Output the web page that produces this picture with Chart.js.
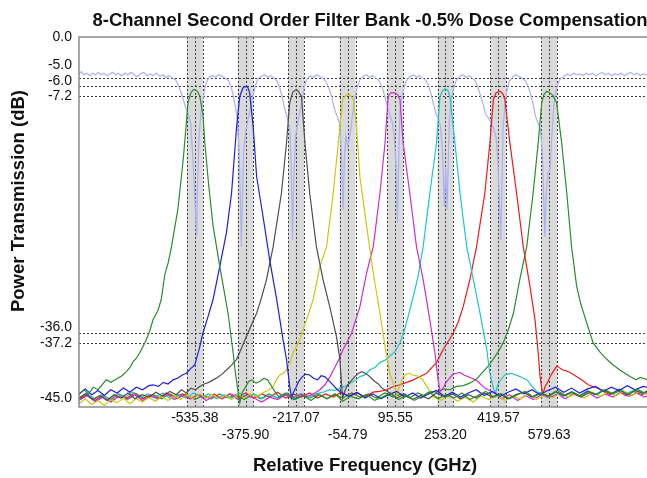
<!DOCTYPE html>
<html>
<head>
<meta charset="utf-8">
<title>8-Channel Second Order Filter Bank</title>
<script src="https://cdn.jsdelivr.net/npm/chart.js@4.4.1/dist/chart.umd.min.js"></script>
<style>
  html, body { margin: 0; padding: 0; background: #fff; }
  #wrap { width: 647px; height: 478px; overflow: hidden; }
  canvas { display: block; }
</style>
</head>
<body>
<div id="wrap"><canvas id="filterBankChart" width="740" height="478"></canvas></div>
<script>
// channel centre frequencies (GHz) and the labels printed under them
const channelCenters = [-535.38, -375.90, -217.07, -54.79, 95.55, 253.20, 419.57, 579.63];
const tickLabels = ["-535.38", "-375.90", "-217.07", "-54.79", "95.55", "253.20", "419.57", "579.63"];

// labelled transmission levels (dB) and the dotted reference levels
const yTickValues = [0, -5, -6, -7.2, -36, -37.2, -45];
const refLevels = [-5, -6, -7.2, -36, -37.2];

// measured drop-port responses, [GHz, dB]
const ch1 = [[-900,-43.5],[-885,-42.9],[-870,-43.4],[-855,-42.6],[-840,-42.9],[-825,-42.2],[-814,-41.7],[-800,-42.0],[-782,-41.6],[-765,-41.2],[-751,-40.7],[-740,-40.2],[-730,-39.5],[-720,-39.1],[-709,-38.4],[-698,-37.6],[-688,-36.8],[-677,-35.7],[-667,-34.4],[-651,-33.2],[-641,-31.9],[-630,-28.9],[-619,-27.4],[-609,-25.5],[-589,-21.0],[-572,-14.9],[-564,-11.3],[-557,-8.0],[-548,-6.8],[-540,-6.4],[-535,-6.4],[-526,-6.7],[-520,-7.2],[-510,-9.4],[-504,-12.9],[-492,-18.0],[-478,-23.0],[-457,-27.9],[-431,-33.6],[-415,-38.4],[-407,-41.1],[-399,-43.3],[-394,-44.5],[-386,-43.2],[-378,-42.7],[-366,-41.9],[-356,-41.7],[-343,-42.1],[-331,-41.9],[-318,-41.5],[-306,-41.7],[-295,-42.4],[-284,-43.1],[-270,-43.8],[-245,-43.3],[-220,-44.1],[-195,-43.6],[-170,-44.2],[-145,-43.5],[-120,-44.0],[-95,-43.4],[-70,-44.3],[-45,-43.7],[-20,-44.0],[5,-43.5],[30,-44.2],[55,-43.8],[80,-43.3],[105,-44.1],[130,-43.6],[155,-44.2],[180,-43.7],[205,-43.2],[230,-44.0],[255,-43.5],[280,-43.9],[305,-43.3],[330,-44.1],[355,-43.6],[380,-43.1],[405,-43.8],[430,-43.4],[455,-44.0],[480,-43.5],[505,-43.1],[530,-43.8],[555,-43.3],[580,-43.7],[605,-43.0],[630,-43.6],[655,-43.2],[680,-43.8],[705,-43.1],[730,-43.5],[755,-42.9],[780,-43.4],[805,-43.0],[830,-43.5],[855,-42.8],[880,-43.3],[900,-42.9]];

const ch2 = [[-900,-43.4],[-880,-42.8],[-860,-43.5],[-840,-43.0],[-820,-43.6],[-800,-42.9],[-780,-43.3],[-760,-42.7],[-740,-43.2],[-720,-42.6],[-700,-42.9],[-680,-42.4],[-667,-42.3],[-650,-42.5],[-635,-42.0],[-620,-42.2],[-604,-41.7],[-590,-41.5],[-575,-41.1],[-562,-40.9],[-548,-40.3],[-536,-39.9],[-522,-38.0],[-510,-36.0],[-494,-34.0],[-478,-31.9],[-457,-27.9],[-436,-23.8],[-420,-19.0],[-404,-10.9],[-394,-7.2],[-384,-6.2],[-378,-6.0],[-369,-6.1],[-363,-6.8],[-352,-10.9],[-341,-17.0],[-321,-21.8],[-300,-27.1],[-278,-31.9],[-258,-36.8],[-247,-39.2],[-237,-42.5],[-231,-43.9],[-225,-43.2],[-218,-42.7],[-209,-41.9],[-199,-41.4],[-187,-41.0],[-174,-41.1],[-162,-41.5],[-149,-41.7],[-138,-41.2],[-127,-41.3],[-114,-41.8],[-101,-42.3],[-87,-42.9],[-73,-43.3],[-50,-43.7],[-25,-43.2],[0,-43.9],[25,-43.4],[50,-44.0],[75,-43.5],[100,-43.1],[125,-43.8],[150,-43.3],[175,-43.9],[200,-43.4],[225,-43.0],[250,-43.7],[275,-43.2],[300,-43.8],[325,-43.3],[350,-42.9],[375,-43.6],[400,-43.1],[425,-43.7],[450,-43.2],[475,-42.8],[500,-43.4],[525,-42.9],[550,-43.5],[575,-43.0],[600,-42.6],[625,-43.2],[650,-42.7],[675,-43.3],[700,-42.8],[725,-42.5],[750,-43.1],[775,-42.6],[800,-43.0],[825,-42.4],[850,-42.9],[875,-42.5],[900,-42.7]];

const ch3 = [[-900,-43.9],[-878,-43.4],[-856,-44.1],[-834,-43.6],[-812,-44.2],[-790,-43.5],[-768,-43.9],[-746,-43.3],[-724,-44.0],[-702,-43.5],[-680,-43.8],[-658,-43.2],[-636,-43.7],[-614,-43.1],[-594,-43.5],[-578,-42.9],[-562,-43.3],[-548,-42.7],[-534,-42.9],[-520,-42.5],[-506,-42.2],[-492,-42.0],[-478,-41.7],[-464,-41.4],[-450,-41.0],[-436,-40.5],[-420,-39.9],[-404,-39.2],[-388,-37.8],[-373,-36.4],[-357,-35.0],[-341,-33.6],[-325,-31.6],[-310,-29.5],[-289,-25.5],[-263,-19.0],[-247,-12.9],[-237,-8.0],[-227,-6.7],[-216,-6.4],[-208,-6.7],[-200,-7.2],[-189,-12.9],[-174,-19.0],[-153,-25.5],[-132,-29.5],[-111,-32.8],[-90,-36.4],[-79,-39.2],[-74,-42.1],[-70,-43.9],[-63,-43.0],[-54,-42.3],[-43,-41.8],[-32,-41.3],[-21,-40.9],[-10,-40.7],[0,-40.9],[9,-41.1],[20,-41.5],[31,-41.9],[42,-42.2],[53,-42.7],[65,-43.0],[78,-43.3],[100,-43.9],[125,-43.4],[150,-44.1],[175,-43.6],[200,-44.0],[225,-43.3],[250,-43.8],[275,-43.4],[300,-44.0],[325,-43.5],[350,-43.9],[375,-43.3],[400,-43.8],[425,-43.4],[450,-44.0],[475,-43.5],[500,-43.2],[525,-43.8],[550,-43.3],[575,-43.7],[600,-43.1],[625,-43.6],[650,-43.2],[675,-43.7],[700,-43.1],[725,-43.5],[750,-43.0],[775,-43.4],[800,-42.9],[825,-43.5],[850,-43.0],[875,-43.3],[900,-42.8]];

const ch4 = [[-900,-44.6],[-880,-44.0],[-860,-44.7],[-840,-44.2],[-820,-44.8],[-800,-44.1],[-780,-44.5],[-760,-43.9],[-740,-44.6],[-720,-44.0],[-700,-44.4],[-680,-43.8],[-660,-44.3],[-640,-43.7],[-620,-44.2],[-600,-43.6],[-580,-44.1],[-560,-43.5],[-540,-44.0],[-520,-43.4],[-500,-43.9],[-480,-43.5],[-460,-44.0],[-440,-43.6],[-420,-44.1],[-400,-43.5],[-380,-43.9],[-360,-43.4],[-340,-43.8],[-320,-43.2],[-305,-43.0],[-289,-42.5],[-278,-41.6],[-268,-41.1],[-257,-40.9],[-247,-40.5],[-236,-39.6],[-226,-38.4],[-215,-37.6],[-205,-36.8],[-195,-35.6],[-184,-34.4],[-163,-31.9],[-142,-27.9],[-121,-25.5],[-100,-19.0],[-79,-10.9],[-70,-7.6],[-60,-7.1],[-48,-7.0],[-37,-7.6],[-27,-10.9],[-16,-17.0],[5,-23.0],[26,-28.7],[47,-33.6],[63,-37.6],[78,-40.9],[94,-42.7],[100,-43.6],[108,-42.6],[119,-41.4],[130,-41.0],[141,-40.9],[154,-41.2],[166,-41.2],[175,-41.5],[182,-41.7],[193,-42.4],[204,-43.1],[215,-43.8],[240,-44.2],[265,-43.6],[290,-44.3],[315,-43.8],[340,-44.4],[365,-43.7],[390,-44.1],[415,-43.5],[440,-44.2],[465,-43.7],[490,-44.0],[515,-43.4],[540,-44.1],[565,-43.6],[590,-43.9],[615,-43.3],[640,-43.8],[665,-43.4],[690,-43.9],[715,-43.3],[740,-43.7],[765,-43.2],[790,-43.6],[815,-43.1],[840,-43.6],[865,-43.1],[890,-43.5],[900,-43.3]];

const ch5 = [[-900,-44.2],[-875,-43.6],[-850,-44.3],[-825,-43.8],[-800,-44.4],[-775,-43.7],[-750,-44.1],[-725,-43.5],[-700,-44.2],[-675,-43.7],[-650,-44.0],[-625,-43.4],[-600,-44.1],[-575,-43.6],[-550,-44.0],[-525,-43.5],[-500,-44.2],[-475,-43.7],[-450,-44.0],[-425,-43.4],[-400,-44.1],[-375,-43.6],[-350,-43.9],[-325,-44.4],[-300,-43.8],[-275,-44.1],[-250,-43.5],[-225,-43.9],[-200,-43.4],[-180,-43.7],[-158,-43.3],[-142,-42.9],[-126,-42.3],[-110,-41.3],[-95,-40.2],[-82,-39.2],[-69,-38.0],[-55,-37.0],[-42,-36.0],[-16,-32.8],[5,-28.7],[26,-25.5],[47,-19.0],[63,-12.9],[73,-7.2],[81,-6.8],[94,-6.8],[103,-7.0],[110,-7.6],[120,-12.9],[141,-19.0],[162,-25.5],[183,-29.5],[204,-34.4],[220,-38.4],[230,-41.7],[236,-43.1],[245,-42.8],[255,-42.0],[266,-41.5],[277,-41.0],[288,-40.9],[299,-40.8],[311,-41.1],[324,-41.3],[336,-41.5],[349,-41.7],[363,-42.2],[377,-42.7],[392,-43.0],[409,-43.3],[430,-44.0],[455,-43.5],[480,-44.2],[505,-43.6],[530,-44.1],[555,-43.5],[580,-43.9],[605,-43.4],[630,-44.0],[655,-43.4],[680,-43.8],[705,-43.3],[730,-43.9],[755,-43.4],[780,-43.8],[805,-43.2],[830,-43.7],[855,-43.3],[880,-43.8],[900,-43.5]];

const ch6 = [[-900,-43.9],[-876,-43.3],[-852,-44.0],[-828,-43.5],[-804,-44.1],[-780,-43.4],[-756,-43.8],[-732,-43.2],[-708,-43.9],[-684,-43.4],[-660,-43.8],[-636,-43.3],[-612,-44.0],[-588,-43.5],[-564,-43.9],[-540,-43.3],[-516,-43.8],[-492,-43.4],[-468,-44.0],[-444,-43.5],[-420,-43.9],[-396,-43.3],[-372,-43.8],[-348,-43.4],[-324,-44.0],[-300,-43.5],[-276,-43.9],[-252,-43.3],[-228,-43.8],[-204,-43.4],[-180,-43.9],[-156,-43.4],[-132,-43.2],[-111,-42.9],[-95,-43.0],[-79,-42.7],[-63,-42.5],[-48,-42.1],[-32,-41.8],[-16,-41.3],[0,-41.1],[15,-40.5],[31,-40.2],[47,-39.6],[63,-39.3],[78,-38.8],[94,-38.3],[110,-37.2],[126,-35.4],[141,-33.2],[154,-31.2],[167,-29.1],[183,-25.5],[204,-19.0],[225,-12.9],[236,-7.2],[245,-6.5],[252,-6.3],[261,-6.5],[267,-7.2],[283,-12.9],[299,-19.0],[320,-25.5],[341,-29.5],[362,-33.6],[383,-38.0],[393,-40.9],[404,-42.7],[411,-43.3],[418,-42.3],[429,-41.6],[440,-41.1],[451,-41.0],[462,-40.9],[475,-41.1],[488,-41.3],[499,-41.5],[510,-41.7],[522,-42.3],[535,-42.9],[550,-43.4],[575,-43.8],[600,-43.2],[625,-43.7],[650,-43.1],[675,-43.6],[700,-43.0],[725,-43.5],[750,-42.9],[775,-43.4],[800,-42.8],[825,-43.3],[850,-42.9],[875,-43.4],[900,-42.9]];

const ch7 = [[-900,-44.0],[-875,-43.5],[-850,-44.2],[-825,-43.6],[-800,-44.1],[-775,-43.4],[-750,-43.9],[-725,-43.3],[-700,-44.0],[-675,-43.5],[-650,-43.9],[-625,-43.3],[-600,-43.8],[-575,-43.4],[-550,-44.0],[-525,-43.5],[-500,-43.9],[-475,-43.4],[-450,-44.0],[-425,-43.4],[-400,-43.8],[-375,-43.3],[-350,-43.9],[-325,-43.4],[-300,-43.8],[-275,-43.2],[-250,-43.9],[-225,-43.4],[-200,-43.8],[-175,-43.3],[-150,-43.9],[-125,-43.4],[-100,-43.8],[-75,-43.2],[-50,-43.7],[-25,-43.3],[0,-43.8],[25,-43.2],[47,-43.1],[68,-42.9],[89,-42.5],[110,-42.3],[131,-42.0],[152,-41.7],[173,-41.3],[194,-40.9],[210,-40.2],[225,-39.6],[246,-38.0],[262,-37.0],[278,-36.0],[294,-34.6],[309,-32.8],[330,-29.5],[351,-25.5],[377,-19.0],[393,-12.9],[404,-7.6],[412,-6.8],[425,-6.6],[434,-6.9],[440,-7.6],[456,-12.9],[477,-19.0],[498,-25.5],[519,-30.3],[535,-34.4],[545,-38.4],[551,-41.3],[559,-43.5],[567,-42.5],[576,-41.9],[584,-41.2],[592,-40.7],[604,-40.0],[614,-40.3],[623,-40.5],[634,-40.6],[645,-40.8],[658,-41.1],[670,-41.4],[686,-41.8],[702,-42.3],[717,-42.5],[733,-42.7],[750,-43.1],[770,-43.5],[795,-43.0],[820,-43.6],[845,-43.1],[870,-43.5],[900,-43.1]];

const ch8 = [[-900,-44.1],[-874,-43.6],[-848,-44.3],[-822,-43.7],[-796,-44.2],[-770,-43.6],[-744,-44.0],[-718,-43.4],[-692,-44.1],[-666,-43.5],[-640,-44.0],[-614,-43.4],[-588,-43.9],[-562,-43.4],[-536,-44.1],[-510,-43.6],[-484,-44.0],[-458,-43.4],[-432,-43.9],[-406,-43.5],[-380,-44.1],[-354,-43.5],[-328,-44.0],[-302,-43.4],[-276,-43.9],[-250,-43.5],[-224,-44.1],[-198,-43.6],[-172,-43.9],[-146,-43.4],[-120,-44.0],[-94,-43.5],[-68,-43.9],[-42,-43.3],[-16,-43.8],[10,-43.4],[36,-43.9],[62,-43.3],[88,-43.8],[114,-43.4],[140,-43.9],[166,-43.3],[185,-43.6],[204,-43.1],[225,-43.2],[246,-42.8],[267,-42.9],[288,-42.5],[309,-42.4],[330,-42.1],[351,-41.6],[372,-40.7],[388,-40.0],[403,-39.2],[419,-38.3],[435,-37.2],[451,-35.6],[467,-33.6],[487,-29.5],[509,-25.5],[529,-19.0],[545,-12.9],[556,-8.0],[563,-7.0],[572,-6.6],[582,-6.8],[591,-7.1],[603,-8.0],[619,-12.9],[635,-19.0],[650,-25.5],[666,-30.3],[680,-32.6],[698,-34.8],[718,-37.2],[739,-38.3],[761,-39.2],[781,-39.9],[802,-40.5],[818,-40.9],[834,-41.3],[853,-41.7],[866,-41.4],[876,-41.5],[888,-41.7],[900,-41.6]];

// through-port response, [GHz, dB]
const throughPort = [[-900,-4.5],[-892,-4.2],[-884,-4.6],[-876,-4.4],[-866,-4.7],[-858,-4.4],[-848,-4.6],[-840,-4.3],[-830,-4.6],[-822,-4.4],[-812,-4.7],[-802,-4.5],[-794,-4.3],[-784,-4.6],[-776,-4.4],[-766,-4.7],[-756,-4.4],[-746,-4.6],[-736,-4.3],[-726,-4.6],[-716,-4.8],[-706,-4.5],[-696,-4.3],[-686,-4.7],[-676,-4.5],[-666,-4.7],[-656,-4.4],[-646,-4.8],[-636,-4.6],[-626,-4.9],[-616,-4.7],[-606,-5.0],[-596,-5.2],[-588,-5.8],[-580,-6.6],[-572,-7.6],[-564,-8.6],[-556,-9.4],[-548,-10.6],[-540,-16.0],[-534,-21.0],[-530,-24.3],[-527,-18.0],[-522,-12.0],[-516,-9.0],[-510,-7.6],[-504,-6.2],[-498,-5.4],[-490,-4.9],[-480,-4.7],[-470,-4.9],[-460,-4.6],[-450,-4.8],[-440,-5.0],[-430,-5.3],[-422,-6.0],[-415,-7.0],[-410,-8.0],[-402,-9.8],[-396,-14.0],[-392,-20.0],[-389,-25.5],[-386,-20.0],[-382,-14.0],[-376,-11.6],[-368,-10.0],[-360,-8.6],[-352,-7.0],[-344,-5.8],[-336,-5.0],[-326,-4.8],[-316,-4.6],[-306,-4.9],[-296,-4.7],[-286,-5.0],[-276,-5.4],[-268,-6.2],[-260,-7.4],[-252,-8.9],[-244,-9.8],[-236,-11.5],[-232,-16.0],[-228,-24.7],[-224,-17.0],[-218,-12.0],[-210,-10.0],[-202,-8.6],[-196,-7.2],[-190,-5.9],[-182,-5.1],[-172,-4.7],[-162,-4.9],[-152,-4.6],[-142,-4.8],[-132,-5.0],[-122,-5.5],[-112,-6.4],[-104,-7.4],[-96,-8.8],[-88,-9.6],[-80,-10.5],[-74,-14.0],[-69,-21.0],[-65,-15.0],[-60,-12.0],[-54,-13.3],[-50,-12.5],[-44,-11.0],[-38,-9.0],[-32,-7.4],[-24,-6.0],[-16,-5.2],[-6,-4.8],[4,-4.6],[14,-4.9],[24,-4.7],[34,-5.0],[44,-5.3],[54,-6.1],[62,-7.2],[70,-8.4],[78,-9.4],[86,-10.4],[92,-12.0],[98,-16.0],[102,-22.6],[106,-15.0],[110,-9.0],[116,-7.2],[124,-6.0],[132,-5.2],[142,-4.8],[152,-4.6],[162,-4.9],[172,-4.7],[182,-5.0],[192,-5.3],[200,-5.9],[208,-7.0],[216,-8.2],[224,-9.4],[232,-10.0],[238,-11.0],[244,-14.0],[250,-20.6],[254,-16.0],[258,-21.0],[262,-15.0],[266,-9.6],[272,-7.4],[280,-6.0],[288,-5.2],[298,-4.8],[308,-4.6],[318,-4.9],[328,-4.7],[338,-5.0],[348,-5.4],[356,-6.2],[364,-7.2],[372,-8.2],[380,-9.4],[388,-9.8],[396,-10.4],[404,-11.0],[412,-12.0],[418,-15.0],[423,-20.0],[427,-24.7],[431,-18.0],[434,-11.5],[440,-8.4],[446,-6.6],[454,-5.4],[464,-4.9],[474,-4.6],[484,-4.8],[494,-5.0],[504,-5.3],[512,-5.9],[520,-6.8],[528,-8.0],[536,-9.6],[544,-10.4],[552,-11.2],[558,-14.0],[562,-19.0],[566,-24.3],[570,-19.0],[576,-16.5],[582,-16.1],[588,-12.0],[594,-8.4],[600,-6.6],[608,-5.6],[616,-5.0],[626,-4.8],[636,-4.5],[646,-4.7],[656,-4.4],[666,-4.6],[676,-4.5],[686,-4.7],[696,-4.4],[706,-4.6],[716,-4.4],[726,-4.7],[736,-4.5],[746,-4.3],[756,-4.6],[766,-4.4],[776,-4.7],[786,-4.5],[796,-4.6],[806,-4.4],[816,-4.7],[826,-4.5],[836,-4.3],[846,-4.6],[856,-4.4],[866,-4.7],[876,-4.5],[886,-4.6],[896,-4.4],[900,-4.5]];

const channelSeries = [ch1, ch2, ch3, ch4, ch5, ch6, ch7, ch8];
const channelColors = ["#2b8c2b", "#1f1fe0", "#4f4f4f", "#c9c914", "#cc2ecc", "#20c6c6", "#ee1a1a", "#2b8c2b"];
const throughColor = "#aab0f2";

const chartTitle = "8-Channel Second Order Filter Bank -0.5% Dose Compensation";
const FONT = "'Liberation Sans', Arial, Helvetica, sans-serif";
const BAND_HALF = 25; // half-width of the shaded passband columns, GHz

const bankOverlay = {
  id: "bankOverlay",

  beforeDatasetsDraw(chart) {
    const { ctx, chartArea: a, scales: { x, y } } = chart;
    ctx.save();

    // shaded passband columns
    ctx.fillStyle = "#dadada";
    channelCenters.forEach((c) => {
      const l = x.getPixelForValue(c - BAND_HALF);
      const r = x.getPixelForValue(c + BAND_HALF);
      ctx.fillRect(l, a.top, r - l, a.bottom - a.top);
    });

    // dotted markers
    ctx.strokeStyle = "#3c3c3c";
    ctx.lineWidth = 1;
    ctx.setLineDash([2, 2]);
    channelCenters.forEach((c) => {
      [c - BAND_HALF, c, c + BAND_HALF].forEach((v) => {
        const px = Math.round(x.getPixelForValue(v)) + 0.5;
        ctx.beginPath();
        ctx.moveTo(px, a.top);
        ctx.lineTo(px, a.bottom);
        ctx.stroke();
      });
    });
    refLevels.forEach((v) => {
      const py = Math.round(y.getPixelForValue(v)) + 0.5;
      ctx.beginPath();
      ctx.moveTo(a.left, py);
      ctx.lineTo(a.right, py);
      ctx.stroke();
    });
    ctx.restore();
  },

  afterDraw(chart) {
    const { ctx, chartArea: a, scales: { y } } = chart;
    ctx.save();

    // plot frame
    ctx.strokeStyle = "#8c8c8c";
    ctx.lineWidth = 1.5;
    ctx.strokeRect(a.left, a.top, a.right - a.left, a.bottom - a.top);

    // title, centred on the whole figure rather than the plot box
    ctx.fillStyle = "#111";
    ctx.font = `bold 18.5px ${FONT}`;
    ctx.textAlign = "center";
    ctx.textBaseline = "middle";
    ctx.fillText(chartTitle, chart.width / 2, 21);

    // y labels, nudged apart where levels sit close together
    ctx.font = `14px ${FONT}`;
    ctx.textAlign = "right";
    const sorted = [...yTickValues].sort((p, q) => p - q);
    let prev = a.bottom - 9 + 15.5;
    sorted.forEach((v) => {
      const py = Math.min(y.getPixelForValue(v), prev - 15.5);
      ctx.fillText(v.toFixed(1), a.left - 7, py);
      prev = py;
    });

    // y axis title
    ctx.font = `bold 18.5px ${FONT}`;
    ctx.textAlign = "center";
    ctx.translate(19, 201);
    ctx.rotate(-Math.PI / 2);
    ctx.fillText("Power Transmission (dB)", 0, 0);
    ctx.restore();
  }
};

window.FilterBankChart = {
  chart: null,

  init() {
    this.canvas = document.getElementById("filterBankChart");
    this.render();
  },

  buildDatasets() {
    const toPoints = (rows) => rows.map(([x, y]) => ({ x, y }));
    const drops = channelSeries.map((rows, i) => ({
      label: `Channel ${i + 1}`,
      data: toPoints(rows),
      borderColor: channelColors[i],
      borderWidth: 1.2,
      order: 1
    }));
    const through = {
      label: "Through",
      data: toPoints(throughPort),
      borderColor: throughColor,
      borderWidth: 1.2,
      order: 2
    };
    return [...drops, through];
  },

  render() {
    Chart.defaults.font.family = FONT;
    Chart.defaults.color = "#111";

    this.chart = new Chart(this.canvas, {
      type: "line",
      data: { datasets: this.buildDatasets() },
      options: {
        responsive: false,
        animation: false,
        elements: { point: { radius: 0 }, line: { tension: 0 } },
        layout: { padding: { left: 0, right: 89, top: 37, bottom: 0 } },
        plugins: {
          legend: { display: false },
          tooltip: { enabled: false },
          title: { display: false }
        },
        scales: {
          x: {
            type: "linear",
            min: -900,
            max: 900,
            grid: { display: false, drawTicks: false },
            border: { display: false },
            afterBuildTicks: (scale) => {
              scale.ticks = channelCenters.map((value) => ({ value }));
            },
            afterFit: (scale) => { scale.height = 71; },
            ticks: {
              autoSkip: false,
              maxRotation: 0,
              minRotation: 0,
              padding: 3,
              font: { size: 14 },
              color: "#111",
              callback: (value, index) => (index % 2 ? ["", tickLabels[index]] : tickLabels[index])
            },
            title: {
              display: true,
              text: "Relative Frequency (GHz)",
              font: { size: 18.5, weight: "bold" },
              color: "#111",
              padding: { top: 0, bottom: 1 }
            }
          },
          y: {
            type: "linear",
            min: -45,
            max: 0,
            grid: { display: false },
            border: { display: false },
            ticks: { display: false },
            afterFit: (scale) => { scale.width = 79; }
          }
        }
      },
      plugins: [bankOverlay]
    });
  }
};

document.addEventListener("DOMContentLoaded", () => {
  window.FilterBankChart.init();
});
</script>
</body>
</html>
